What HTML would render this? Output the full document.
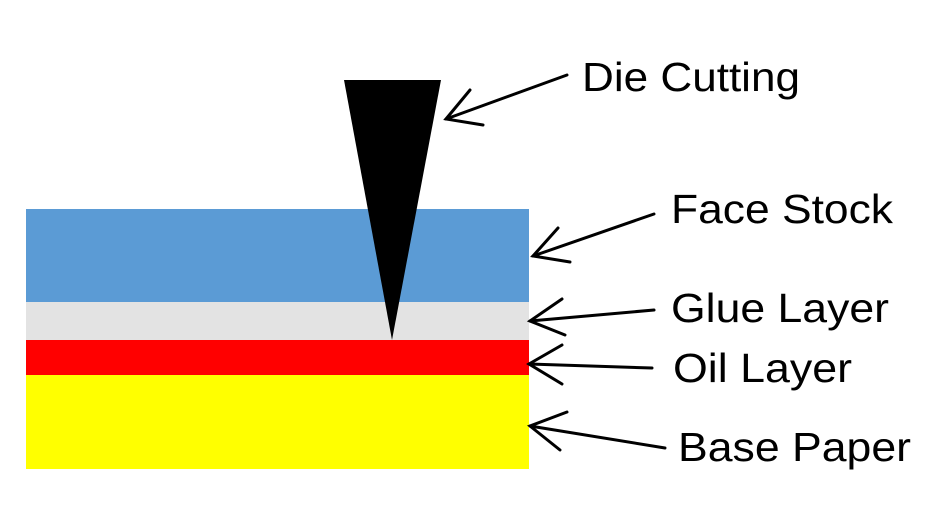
<!DOCTYPE html>
<html><head><meta charset="utf-8"><style>
html,body{margin:0;padding:0;background:#fff;}
svg{display:block;}
text{font-family:"Liberation Sans",Arial,sans-serif;font-size:41px;fill:#000;}
</style></head><body>
<svg width="944" height="518" viewBox="0 0 944 518" xmlns="http://www.w3.org/2000/svg">
<rect x="0" y="0" width="944" height="518" fill="#fff"/>
<rect x="26" y="209" width="503" height="94" fill="#5b9bd5"/>
<rect x="26" y="302" width="503" height="39" fill="#e3e3e3"/>
<rect x="26" y="340" width="503" height="35" fill="#ff0000"/>
<rect x="26" y="375" width="503" height="94" fill="#ffff00"/>
<polygon points="344,80 441,80 392,340" fill="#000"/>
<g stroke="#000" stroke-width="3" fill="none" stroke-linecap="round">
<line x1="567" y1="75" x2="446" y2="119"/><polyline points="470,90 446,119 483,125"/>
<line x1="654" y1="214" x2="533" y2="256"/><polyline points="558,228 533,256 570,262"/>
<line x1="654" y1="310" x2="530" y2="321"/><polyline points="562,299 530,321 565,335"/>
<line x1="652" y1="368" x2="529" y2="364"/><polyline points="562,345 529,364 562,384"/>
<line x1="665" y1="448" x2="530" y2="426"/><polyline points="567,412 530,426 560,450"/>
</g>
<text x="582" y="91" textLength="218" lengthAdjust="spacingAndGlyphs">Die Cutting</text>
<text x="671" y="223" textLength="222" lengthAdjust="spacingAndGlyphs">Face Stock</text>
<text x="671" y="322" textLength="218" lengthAdjust="spacingAndGlyphs">Glue Layer</text>
<text x="673" y="382" textLength="179" lengthAdjust="spacingAndGlyphs">Oil Layer</text>
<text x="678" y="461" textLength="233" lengthAdjust="spacingAndGlyphs">Base Paper</text>
</svg>
</body></html>
